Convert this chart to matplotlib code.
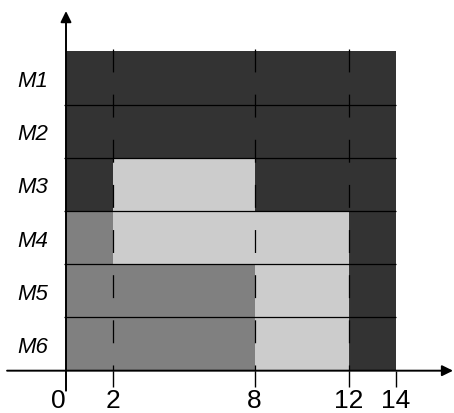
import matplotlib
matplotlib.use("Agg")
import matplotlib.pyplot as plt

plt.rcParams['font.family'] = ['Liberation Sans', 'DejaVu Sans']
plt.rcParams['lines.scale_dashes'] = False

# ---- data ----
machines = ['M1', 'M2', 'M3', 'M4', 'M5', 'M6']
seg_machine = ['M1', 'M2', 'M3', 'M3', 'M3', 'M4', 'M4', 'M4',
               'M5', 'M5', 'M5', 'M6', 'M6', 'M6']
seg_start = [0, 0, 0, 2, 8, 0, 2, 12, 0, 8, 12, 0, 8, 12]
seg_end = [14, 14, 2, 8, 14, 2, 12, 14, 8, 12, 14, 8, 12, 14]
seg_shade = ['dark', 'dark', 'dark', 'light', 'dark', 'medium', 'light', 'dark',
             'medium', 'light', 'dark', 'medium', 'light', 'dark']
x_ticks = [0, 2, 8, 12, 14]
marker_times = [2, 8, 12]

shade_colors = {'dark': '#333333', 'light': '#cccccc', 'medium': '#808080'}

n = len(machines)
row_of = {m: n - 1 - i for i, m in enumerate(machines)}  # M1 at top

fig = plt.figure(figsize=(4.54, 4.14), dpi=100)
ax = fig.add_axes([0, 0, 1, 1])

# bars
for m, s, e, sh in zip(seg_machine, seg_start, seg_end, seg_shade):
    ax.barh(row_of[m] + 0.5, e - s, left=s, height=1.0,
            color=shade_colors[sh], edgecolor='none', zorder=1)

t_max = max(seg_end)

# row separators
for k in range(1, n):
    ax.plot([-0.1, t_max], [k, k], color='black', lw=0.9, zorder=3,
            solid_capstyle='butt')

# dashed time markers
for t in marker_times:
    ax.plot([t, t], [n + 0.04, 0], color='black', lw=0.9, zorder=4,
            linestyle=(0, (16.5, 16.0)), dash_capstyle='butt')

# limits (axes fill the figure)
ax.set_xlim(-2.80, 16.46)
ax.set_ylim(-0.795, 6.983)

for sp in ax.spines.values():
    sp.set_visible(False)
ax.spines['bottom'].set_position(('data', 0))
ax.spines['left'].set_position(('data', 0))

# x ticks
ax.set_xticks(x_ticks)
ax.set_xticklabels([str(v) for v in x_ticks])
ax.tick_params(axis='x', direction='out', length=11.5, width=1.0,
               pad=1.0, labelsize=19, colors='black')
ticks = ax.xaxis.get_major_ticks()
ticks[0].tick1line.set_visible(False)
ticks[0].label1.set_horizontalalignment('right')
for tk, v in zip(ticks, x_ticks):
    if v in (2, 14):
        tk.tick1line.set_color('#555555')
    else:
        tk.tick1line.set_color('#222222')

# y labels
ax.set_yticks([row_of[m] + 0.5 for m in machines])
ax.set_yticklabels(machines, fontstyle='italic')
ax.tick_params(axis='y', length=0, pad=13, labelsize=16)

# axis arrows
arrow = dict(arrowstyle='-|>,head_length=0.65,head_width=0.32',
             color='black', lw=1.4, shrinkA=0, shrinkB=0)
ax.annotate('', xy=(0, 6.757), xytext=(0, -0.376), arrowprops=arrow,
            annotation_clip=False, zorder=6)
ax.annotate('', xy=(16.42, 0), xytext=(-2.50, 0), arrowprops=arrow,
            annotation_clip=False, zorder=6)

fig.savefig('out.png', dpi=100)
